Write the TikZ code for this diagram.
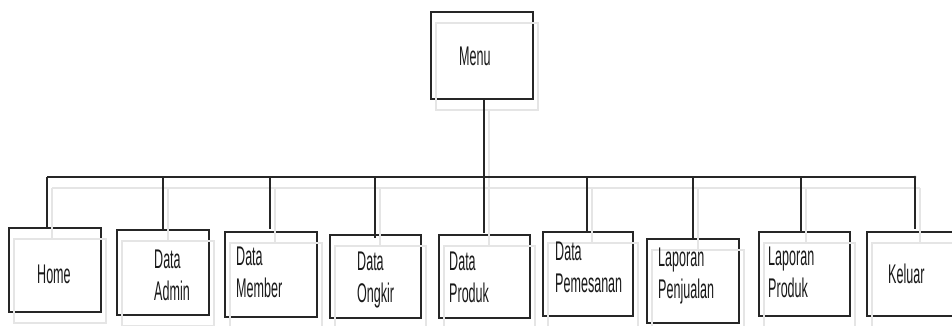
\documentclass[tikz,border=0pt]{standalone}
\usepackage{fontspec}
\setmainfont{Liberation Sans}
\usepackage{graphicx}
\newcommand{\lbl}[1]{\scalebox{0.465}[1]{\begin{tabular}[t]{@{}l@{}}#1\end{tabular}}}
\begin{document}
\begin{tikzpicture}[x=1pt,y=-1pt,
  box/.style={draw=black!85,line width=1.5pt,inner sep=0pt,outer sep=0pt,anchor=north west},
  shade/.style={draw=black!10,line width=1.3pt},
  conn/.style={draw=black!85,line width=1.4pt},
  lab/.style={font=\fontsize{27}{32.5}\selectfont,inner sep=0pt,anchor=base west,text=black!90}]
\useasboundingbox (0,0) rectangle (952,325);
% boxes
\node[box,minimum width=102,minimum height=87] (menu) at (431,12) {};
\node[box,minimum width=92,minimum height=84] (home) at (9,228) {};
\node[box,minimum width=92,minimum height=85] (admin) at (117,230) {};
\node[box,minimum width=92,minimum height=85] (member) at (225,232) {};
\node[box,minimum width=91,minimum height=83] (ongkir) at (330,235) {};
\node[box,minimum width=91,minimum height=83] (produk) at (439,235) {};
\node[box,minimum width=90,minimum height=84] (pemesanan) at (543,232) {};
\node[box,minimum width=92,minimum height=84] (penjualan) at (647,239) {};
\node[box,minimum width=91,minimum height=84] (lapproduk) at (759,232) {};
\node[box,minimum width=90,minimum height=84] (keluar) at (867,232) {};
% bus coordinates
\coordinate (bl) at (47,177);
\coordinate (br) at (915,177);
\coordinate (b1) at (47,177);
\coordinate (b2) at (163,177);
\coordinate (b3) at (270,177);
\coordinate (b4) at (375,177);
\coordinate (b6) at (587,177);
\coordinate (b7) at (693,177);
\coordinate (b8) at (801,177);
\coordinate (b9) at (915,177);
\coordinate (m) at (484,99);
% shadows
\begin{scope}[shade]
\foreach \n in {menu,home,admin,member,ongkir,produk,pemesanan,penjualan,lapproduk,keluar}
  \draw ([shift={(5,11)}]\n.north west) rectangle ([shift={(5,11)}]\n.south east);
\draw ([shift={(5,11)}]bl) -- ([shift={(5,11)}]br);
\foreach \b/\n in {b1/home,b2/admin,b3/member,b4/ongkir,b6/pemesanan,b7/penjualan,b8/lapproduk,b9/keluar}
  \draw ([shift={(5,11)}]\b) -- ([shift={(5,11)}]\b |- \n.north);
\draw ([shift={(5,11)}]m) -- ([shift={(5,11)}]m |- produk.north);
\end{scope}
% connectors
\draw[conn] (bl) -- (br);
\draw[conn] (m) -- ([yshift=2]m |- produk.north);
\draw[conn] (b1) -- (b1 |- home.north);
\draw[conn] (b2) -- (b2 |- admin.north);
\draw[conn] (b3) -- ([yshift=3]b3 |- member.north);
\draw[conn] (b4) -- ([yshift=-3]b4 |- ongkir.north);
\draw[conn] (b6) -- (b6 |- pemesanan.north);
\draw[conn] (b7) -- ([yshift=1]b7 |- penjualan.north);
\draw[conn] (b8) -- (b8 |- lapproduk.north);
\draw[conn] (b9) -- ([yshift=3]b9 |- keluar.north);
\fill[black!85] (br) circle (1.3);
% labels
\node[lab] (tmenu) at (459,65) {\lbl{Menu}};
\node[lab] (thome) at (37,283) {\lbl{Home}};
\node[lab] (tadmin) at (154,268) {\lbl{Data\\Admin}};
\node[lab] (tmember) at (236,265) {\lbl{Data\\Member}};
\node[lab] (tongkir) at (357,270) {\lbl{Data\\Ongkir}};
\node[lab] (tproduk) at (449,270) {\lbl{Data\\Produk}};
\node[lab] (tpemesanan) at (555,260) {\lbl{Data\\Pemesanan}};
\node[lab] (tpenjualan) at (658,266) {\lbl{Laporan\\Penjualan}};
\node[lab] (tlapproduk) at (768,265) {\lbl{Laporan\\Produk}};
\node[lab] (tkeluar) at (888,283) {\lbl{Keluar}};
\end{tikzpicture}
\end{document}
